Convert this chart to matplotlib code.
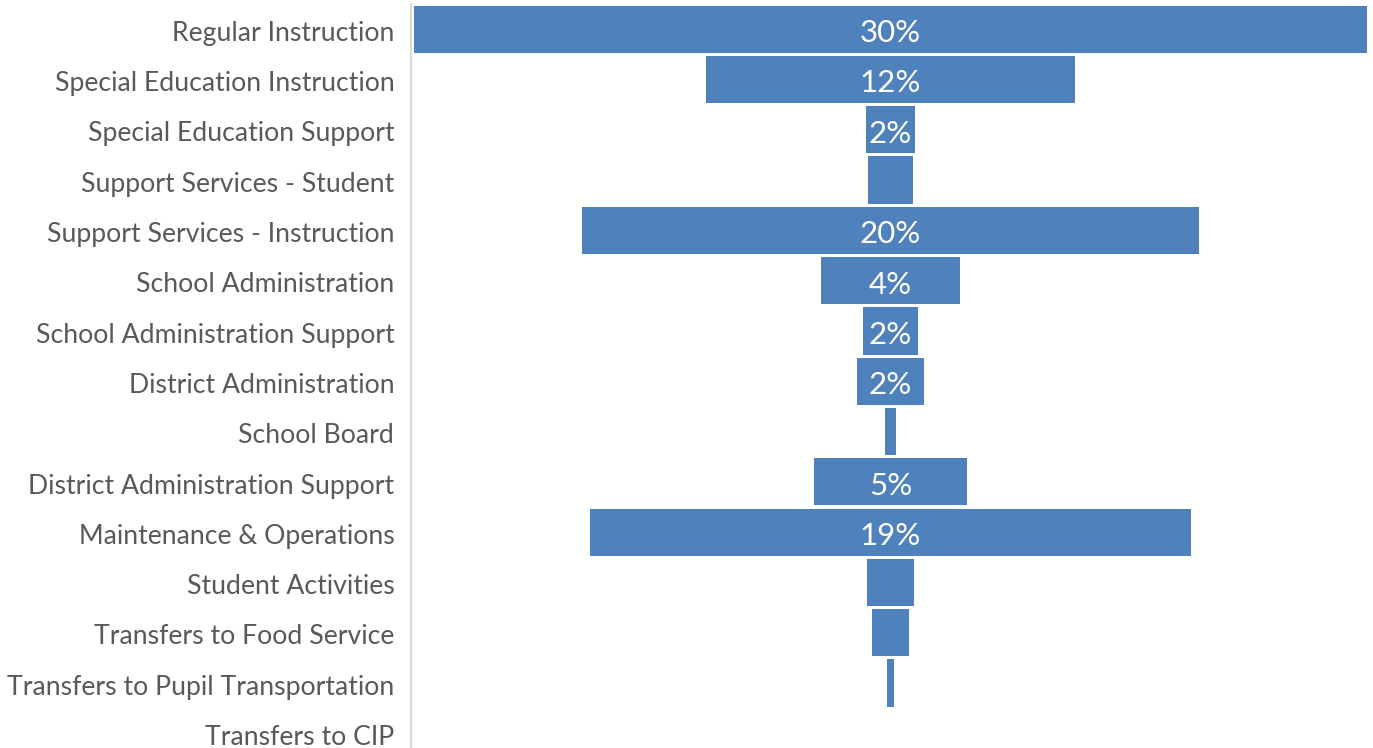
import numpy as np
import matplotlib
matplotlib.use("Agg")
from matplotlib import pyplot as plt
from matplotlib import transforms

# categories, top to bottom
categories = ["Regular Instruction", "Special Education Instruction", "Special Education Support",
              "Support Services - Student", "Support Services - Instruction", "School Administration",
              "School Administration Support", "District Administration", "School Board",
              "District Administration Support", "Maintenance & Operations", "Student Activities",
              "Transfers to Food Service", "Transfers to Pupil Transportation", "Transfers to CIP"]
# share of spending (%)
shares = [30.0, 11.6, 1.55, 1.4, 19.4, 4.4, 1.75, 2.1, 0.35, 4.8, 18.9, 1.45, 1.15, 0.25, 0.0]
# data labels as shown
bar_labels = ["30%", "12%", "2%", "", "20%", "4%", "2%", "2%", "", "5%", "19%", "", "", "", ""]

plt.rcParams['font.family'] = ['Lato', 'DejaVu Sans']

fig = plt.figure(figsize=(13.73, 7.48), dpi=100)
ax = fig.add_axes([411/1373, 1 - 758.5/748, 959/1373, 754.5/748])

y = np.arange(len(categories))
vals = np.array(shares)
ax.barh(y, vals, left=-vals/2, height=0.94, color="#4f81bd")

for i, lab in enumerate(bar_labels):
    if lab:
        ax.text(0, y[i] + 0.08, lab, ha="center", va="center", color="white", fontsize=22.5)

ax.set_xlim(-15.1, 15.1)
ax.set_ylim(len(categories) - 0.5, -0.5)
ax.set_yticks(y)
ax.set_yticklabels(categories, fontsize=19.2, color="#595959")
ax.tick_params(axis="y", length=0, pad=12)
# nudge category labels down a little
shift = transforms.ScaledTranslation(0, -1.2/72, fig.dpi_scale_trans)
for t in ax.get_yticklabels():
    t.set_transform(t.get_transform() + shift)
ax.set_xticks([])
for s in ["top", "right", "bottom"]:
    ax.spines[s].set_visible(False)
ax.spines["left"].set_color("#d9d9d9")
ax.spines["left"].set_linewidth(1.5)

fig.savefig("out.png", dpi=100)
